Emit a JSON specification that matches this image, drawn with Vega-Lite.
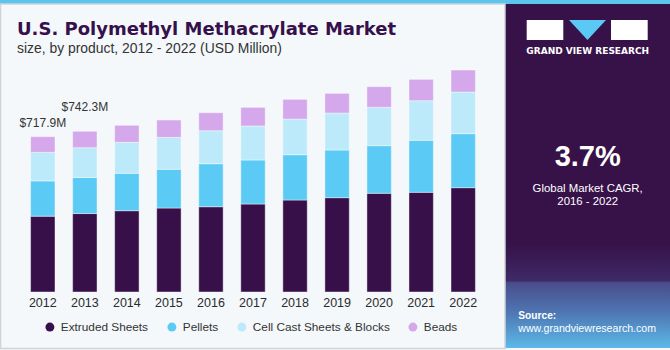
{
  "$schema": "https://vega.github.io/schema/vega-lite/v6.json",
  "width": 486,
  "height": 232,
  "autosize": {"type": "none"},
  "padding": {"left": 10, "top": 60, "right": 174, "bottom": 58},
  "background": "#F4F8FB",
  "config": {"view": {"stroke": null}},
  "datasets": {
    "market": [
      {"year": "2012", "product": "Extruded Sheets", "value": 350.4},
      {"year": "2012", "product": "Pellets", "value": 162.8},
      {"year": "2012", "product": "Cell Cast Sheets & Blocks", "value": 132.3},
      {"year": "2012", "product": "Beads", "value": 72.4},
      {"year": "2013", "product": "Extruded Sheets", "value": 362.5},
      {"year": "2013", "product": "Pellets", "value": 166.8},
      {"year": "2013", "product": "Cell Cast Sheets & Blocks", "value": 137.5},
      {"year": "2013", "product": "Beads", "value": 75.5},
      {"year": "2014", "product": "Extruded Sheets", "value": 375.6},
      {"year": "2014", "product": "Pellets", "value": 172.8},
      {"year": "2014", "product": "Cell Cast Sheets & Blocks", "value": 143.2},
      {"year": "2014", "product": "Beads", "value": 78.5},
      {"year": "2015", "product": "Extruded Sheets", "value": 388.0},
      {"year": "2015", "product": "Pellets", "value": 178.8},
      {"year": "2015", "product": "Cell Cast Sheets & Blocks", "value": 147.8},
      {"year": "2015", "product": "Beads", "value": 80.0},
      {"year": "2016", "product": "Extruded Sheets", "value": 394.0},
      {"year": "2016", "product": "Pellets", "value": 198.7},
      {"year": "2016", "product": "Cell Cast Sheets & Blocks", "value": 152.5},
      {"year": "2016", "product": "Beads", "value": 83.2},
      {"year": "2017", "product": "Extruded Sheets", "value": 406.6},
      {"year": "2017", "product": "Pellets", "value": 203.3},
      {"year": "2017", "product": "Cell Cast Sheets & Blocks", "value": 157.0},
      {"year": "2017", "product": "Beads", "value": 86.2},
      {"year": "2018", "product": "Extruded Sheets", "value": 425.0},
      {"year": "2018", "product": "Pellets", "value": 209.4},
      {"year": "2018", "product": "Cell Cast Sheets & Blocks", "value": 164.8},
      {"year": "2018", "product": "Beads", "value": 90.9},
      {"year": "2019", "product": "Extruded Sheets", "value": 435.8},
      {"year": "2019", "product": "Pellets", "value": 220.2},
      {"year": "2019", "product": "Cell Cast Sheets & Blocks", "value": 170.9},
      {"year": "2019", "product": "Beads", "value": 90.9},
      {"year": "2020", "product": "Extruded Sheets", "value": 456.0},
      {"year": "2020", "product": "Pellets", "value": 220.0},
      {"year": "2020", "product": "Cell Cast Sheets & Blocks", "value": 177.4},
      {"year": "2020", "product": "Beads", "value": 95.3},
      {"year": "2021", "product": "Extruded Sheets", "value": 460.6},
      {"year": "2021", "product": "Pellets", "value": 240.2},
      {"year": "2021", "product": "Cell Cast Sheets & Blocks", "value": 183.0},
      {"year": "2021", "product": "Beads", "value": 98.8},
      {"year": "2022", "product": "Extruded Sheets", "value": 482.0},
      {"year": "2022", "product": "Pellets", "value": 249.5},
      {"year": "2022", "product": "Cell Cast Sheets & Blocks", "value": 192.5},
      {"year": "2022", "product": "Beads", "value": 101.6}
    ]
  },
  "layer": [
    {
      "data": {"values": [{}]},
      "mark": {"type": "rect", "x": -10, "x2": 660, "y": -60, "y2": -56, "color": "#5BC5EE"},
      "encoding": {}
    },
    {
      "data": {"values": [{}]},
      "mark": {"type": "rect", "x": -9.5, "x2": 495, "y": -56, "y2": 288.5, "fill": null, "fillOpacity": 0, "stroke": "#D0D3D6", "strokeWidth": 1.5},
      "encoding": {}
    },
    {
      "data": {"values": [{}]},
      "mark": {
        "type": "rect", "x": 495.7, "x2": 660, "y": -56, "y2": 288,
        "color": {
          "gradient": "linear", "x1": 0, "y1": 0, "x2": 0, "y2": 1,
          "stops": [
            {"offset": 0, "color": "#371249"},
            {"offset": 0.7, "color": "#371249"},
            {"offset": 0.805, "color": "#3E2A68"},
            {"offset": 0.81, "color": "#4A4C8C"},
            {"offset": 0.9, "color": "#4F78B4"},
            {"offset": 1, "color": "#5CB9E9"}
          ]
        }
      },
      "encoding": {}
    },
    {
      "data": {"values": [{}]},
      "mark": {"type": "rect", "x": 516.7, "x2": 553.3, "y": -40, "y2": -20, "color": "#FFFFFF"},
      "encoding": {}
    },
    {
      "data": {"values": [{}]},
      "mark": {"type": "rect", "x": 601, "x2": 637.7, "y": -40, "y2": -20, "color": "#FFFFFF"},
      "encoding": {}
    },
    {
      "data": {"values": [{}]},
      "mark": {"type": "rule", "x": 533, "x2": 552, "y": -28.5, "y2": -28.5, "color": "#371249", "strokeWidth": 1.5},
      "encoding": {}
    },
    {
      "data": {"values": [{}]},
      "mark": {"type": "rule", "x": 623, "x2": 637.7, "y": -30, "y2": -23.5, "color": "#371249", "strokeWidth": 1.5},
      "encoding": {}
    },
    {
      "data": {"values": [{}]},
      "mark": {"type": "point", "shape": "M-1,-0.54L1,-0.54L0,0.54Z", "x": 577.5, "y": -30, "size": 1369, "filled": true, "color": "#5BC8F5", "opacity": 1, "strokeWidth": 0},
      "encoding": {}
    },
    {
      "data": {"values": [{}]},
      "mark": {"type": "text", "text": "GRAND VIEW RESEARCH", "x": 577.7, "y": -6, "align": "center", "baseline": "alphabetic", "font": "DejaVu Sans", "fontWeight": "bold", "fontSize": 9, "color": "#FFFFFF"}
    },
    {
      "data": {"values": [{}]},
      "mark": {"type": "text", "text": "3.7%", "x": 577.7, "y": 105.7, "align": "center", "baseline": "alphabetic", "font": "Liberation Sans", "fontWeight": "bold", "fontSize": 29, "color": "#FFFFFF"}
    },
    {
      "data": {"values": [{}]},
      "mark": {"type": "rule", "x": 524.3, "x2": 630.7, "y": 113.3, "y2": 113.3, "color": "#FFFFFF", "strokeWidth": 1},
      "encoding": {}
    },
    {
      "data": {"values": [{}]},
      "mark": {"type": "text", "text": "Global Market CAGR,", "x": 577.7, "y": 131.7, "align": "center", "baseline": "alphabetic", "font": "Liberation Sans", "fontSize": 11.4, "color": "#FFFFFF"}
    },
    {
      "data": {"values": [{}]},
      "mark": {"type": "text", "text": "2016 - 2022", "x": 577.7, "y": 145, "align": "center", "baseline": "alphabetic", "font": "Liberation Sans", "fontSize": 11.4, "color": "#FFFFFF"}
    },
    {
      "data": {"values": [{}]},
      "mark": {"type": "text", "text": "Source:", "x": 508.3, "y": 259, "align": "left", "baseline": "alphabetic", "font": "Liberation Sans", "fontWeight": "bold", "fontSize": 10.2, "color": "#FFFFFF"}
    },
    {
      "data": {"values": [{}]},
      "mark": {"type": "text", "text": "www.grandviewresearch.com", "x": 508.3, "y": 272.3, "align": "left", "baseline": "alphabetic", "font": "Liberation Sans", "fontSize": 10.6, "color": "#FFFFFF"}
    },
    {
      "data": {"values": [{}]},
      "mark": {"type": "text", "text": "U.S. Polymethyl Methacrylate Market", "x": 7, "y": -25, "align": "left", "baseline": "alphabetic", "font": "DejaVu Sans", "fontWeight": "bold", "fontSize": 18, "color": "#36104B"}
    },
    {
      "data": {"values": [{}]},
      "mark": {"type": "text", "text": "size, by product, 2012 - 2022 (USD Million)", "x": 7, "y": -6.7, "align": "left", "baseline": "alphabetic", "font": "Liberation Sans", "fontSize": 13.9, "color": "#333333"}
    },
    {
      "data": {"name": "market"},
      "transform": [
        {"calculate": "indexof(['Extruded Sheets','Pellets','Cell Cast Sheets & Blocks','Beads'], datum.product)", "as": "ord"}
      ],
      "mark": {"type": "bar", "stroke": "#FFFFFF", "strokeWidth": 0.6, "strokeOpacity": 0.7},
      "encoding": {
        "x": {
          "field": "year", "type": "ordinal",
          "scale": {"paddingInner": 0.42, "paddingOuter": 0.49},
          "axis": {"title": null, "domain": false, "ticks": false, "labelAngle": 0, "labelPadding": 4, "labelFont": "Liberation Sans", "labelFontSize": 12.5, "labelColor": "#2B2B2B"}
        },
        "y": {
          "field": "value", "type": "quantitative", "stack": "zero",
          "scale": {"domain": [0, 1072], "nice": false, "zero": true},
          "axis": null
        },
        "color": {
          "field": "product", "type": "nominal",
          "scale": {
            "domain": ["Extruded Sheets", "Pellets", "Cell Cast Sheets & Blocks", "Beads"],
            "range": ["#37104A", "#5BCBF6", "#BDEAFA", "#D4A8EB"]
          },
          "legend": {
            "orient": "none", "legendX": 34, "legendY": 261, "direction": "horizontal",
            "title": null, "symbolType": "circle", "symbolSize": 80, "symbolStrokeWidth": 0,
            "labelFont": "Liberation Sans", "labelFontSize": 11.8, "labelLimit": 0,
            "labelColor": "#333333", "columnPadding": 17, "labelOffset": 5, "padding": 0
          }
        },
        "order": {"field": "ord", "type": "quantitative", "sort": "ascending"}
      }
    },
    {
      "data": {"name": "market"},
      "transform": [
        {"filter": "datum.year == '2012'"},
        {"aggregate": [{"op": "sum", "field": "value", "as": "total"}], "groupby": ["year"]},
        {"calculate": "'$' + format(datum.total, '.1f') + 'M'", "as": "label"}
      ],
      "mark": {"type": "text", "dy": -9.6, "baseline": "alphabetic", "align": "center", "font": "Liberation Sans", "fontSize": 12, "color": "#333333"},
      "encoding": {
        "x": {"field": "year", "type": "ordinal", "scale": {"paddingInner": 0.42, "paddingOuter": 0.49}, "axis": {"title": null, "domain": false, "ticks": false, "labelAngle": 0, "labelPadding": 4, "labelFont": "Liberation Sans", "labelFontSize": 12.5, "labelColor": "#2B2B2B"}},
        "y": {"field": "total", "type": "quantitative", "scale": {"domain": [0, 1072], "nice": false, "zero": true}, "axis": null},
        "text": {"field": "label", "type": "nominal"}
      }
    },
    {
      "data": {"name": "market"},
      "transform": [
        {"filter": "datum.year == '2013'"},
        {"aggregate": [{"op": "sum", "field": "value", "as": "total"}], "groupby": ["year"]},
        {"calculate": "'$' + format(datum.total, '.1f') + 'M'", "as": "label"}
      ],
      "mark": {"type": "text", "dy": -20, "baseline": "alphabetic", "align": "center", "font": "Liberation Sans", "fontSize": 12, "color": "#333333"},
      "encoding": {
        "x": {"field": "year", "type": "ordinal", "scale": {"paddingInner": 0.42, "paddingOuter": 0.49}, "axis": {"title": null, "domain": false, "ticks": false, "labelAngle": 0, "labelPadding": 4, "labelFont": "Liberation Sans", "labelFontSize": 12.5, "labelColor": "#2B2B2B"}},
        "y": {"field": "total", "type": "quantitative", "scale": {"domain": [0, 1072], "nice": false, "zero": true}, "axis": null},
        "text": {"field": "label", "type": "nominal"}
      }
    }
  ]
}
